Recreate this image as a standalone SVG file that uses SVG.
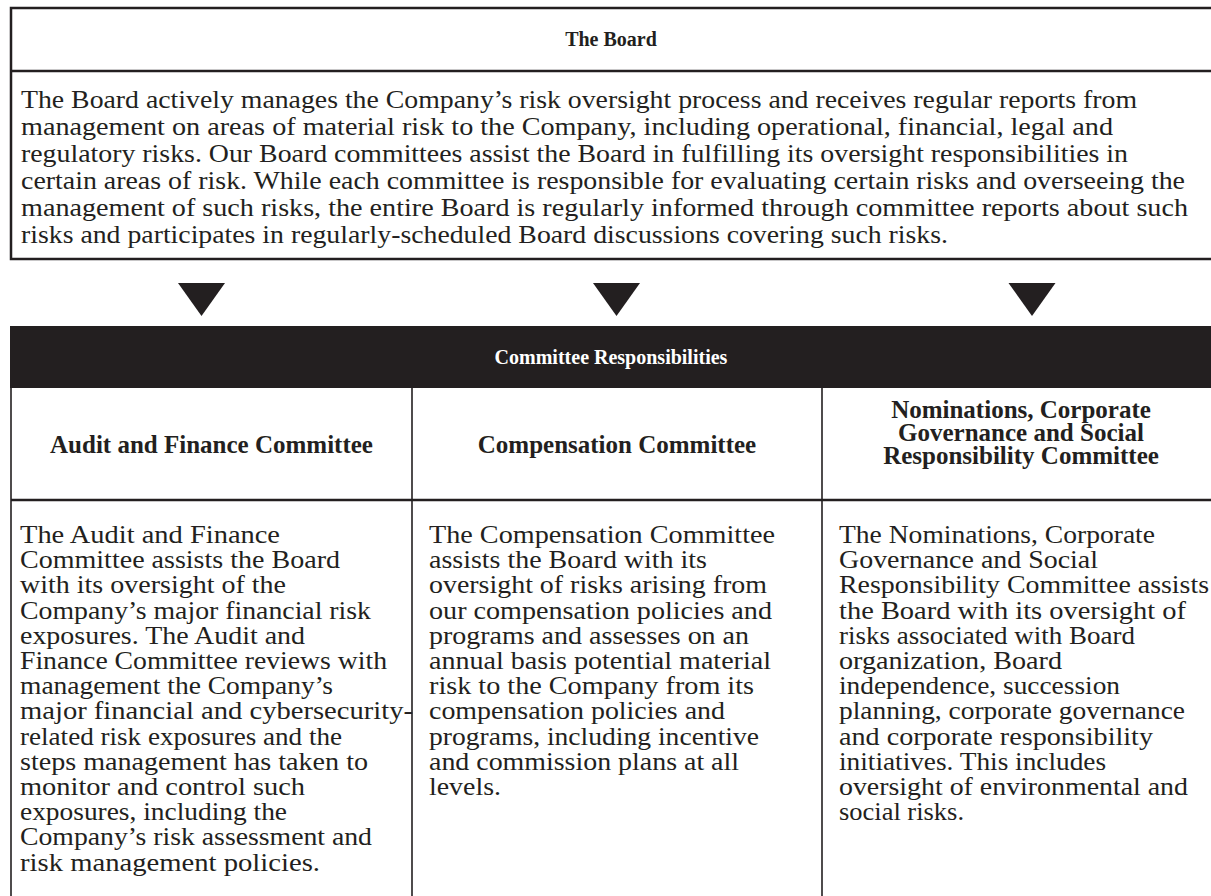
<svg xmlns="http://www.w3.org/2000/svg" xmlns:xlink="http://www.w3.org/1999/xlink" width="1211" height="896" viewBox="0 0 1211 896">
  <style>
    .frame { fill: none; stroke: #231f20; stroke-width: 2.5; }
    .rule { stroke: #231f20; stroke-width: 2.5; }
    .vrule { stroke: #231f20; stroke-width: 1.6; }
    .body { font-family: "Liberation Serif", "Times New Roman", serif; font-size: 25px; fill: #231f20; }
    .title { font-family: "Liberation Serif", "Times New Roman", serif; font-size: 20px; font-weight: bold; fill: #231f20; text-anchor: middle; }
    .title.inverse { fill: #ffffff; }
    .head { font-family: "Liberation Serif", "Times New Roman", serif; font-size: 25px; font-weight: bold; fill: #231f20; text-anchor: middle; }
    .bar { fill: #231f20; }
    .arrow { fill: #231f20; }
  </style>
  <defs>
    <path id="down-arrow" d="M -23.5 283 L 23.5 283 L 0 316 Z"/>
  </defs>
  <rect width="1211" height="896" fill="#ffffff"/>

  <!-- Board box -->
  <g id="board">
    <rect class="frame" x="11" y="8" width="1212" height="251"/>
    <line class="rule" x1="11" y1="71" x2="1211" y2="71"/>
    <text class="title" x="611" y="46">The Board</text>
    <g class="body">
      <text x="21" y="108" textLength="1116" lengthAdjust="spacingAndGlyphs">The Board actively manages the Company’s risk oversight process and receives regular reports from</text>
      <text x="21" y="135" textLength="1092" lengthAdjust="spacingAndGlyphs">management on areas of material risk to the Company, including operational, financial, legal and</text>
      <text x="21" y="162" textLength="1107" lengthAdjust="spacingAndGlyphs">regulatory risks. Our Board committees assist the Board in fulfilling its oversight responsibilities in</text>
      <text x="21" y="189" textLength="1164" lengthAdjust="spacingAndGlyphs">certain areas of risk. While each committee is responsible for evaluating certain risks and overseeing the</text>
      <text x="21" y="216" textLength="1167" lengthAdjust="spacingAndGlyphs">management of such risks, the entire Board is regularly informed through committee reports about such</text>
      <text x="21" y="243" textLength="927" lengthAdjust="spacingAndGlyphs">risks and participates in regularly-scheduled Board discussions covering such risks.</text>
    </g>
  </g>

  <!-- Downward arrows from the Board to the committees -->
  <g id="connectors">
    <use class="arrow" xlink:href="#down-arrow" href="#down-arrow" x="201.5" y="0"/>
    <use class="arrow" xlink:href="#down-arrow" href="#down-arrow" x="616.5" y="0"/>
    <use class="arrow" xlink:href="#down-arrow" href="#down-arrow" x="1032" y="0"/>
  </g>

  <!-- Committee Responsibilities banner -->
  <g id="committee-responsibilities">
    <rect class="bar" x="10" y="326" width="1201" height="62"/>
    <text class="title inverse" x="611" y="364">Committee Responsibilities</text>
  </g>

  <!-- Table grid -->
  <g id="grid">
    <line class="vrule" x1="11" y1="388" x2="11" y2="896"/>
    <line class="vrule" x1="412" y1="388" x2="412" y2="896"/>
    <line class="vrule" x1="822" y1="388" x2="822" y2="896"/>
    <line class="rule" x1="11" y1="500" x2="1211" y2="500"/>
  </g>

  <!-- Audit and Finance Committee -->
  <g id="audit-finance">
    <text class="head" x="211.5" y="453">Audit and Finance Committee</text>
    <g class="body">
      <text x="20" y="543" textLength="260" lengthAdjust="spacingAndGlyphs">The Audit and Finance</text>
      <text x="20" y="568.2" textLength="320" lengthAdjust="spacingAndGlyphs">Committee assists the Board</text>
      <text x="20" y="593.4" textLength="266" lengthAdjust="spacingAndGlyphs">with its oversight of the</text>
      <text x="20" y="618.6" textLength="351" lengthAdjust="spacingAndGlyphs">Company’s major financial risk</text>
      <text x="20" y="643.8" textLength="285" lengthAdjust="spacingAndGlyphs">exposures. The Audit and</text>
      <text x="20" y="669" textLength="367" lengthAdjust="spacingAndGlyphs">Finance Committee reviews with</text>
      <text x="20" y="694.2" textLength="313" lengthAdjust="spacingAndGlyphs">management the Company’s</text>
      <text x="20" y="719.4" textLength="393" lengthAdjust="spacingAndGlyphs">major financial and cybersecurity-</text>
      <text x="20" y="744.6" textLength="322" lengthAdjust="spacingAndGlyphs">related risk exposures and the</text>
      <text x="20" y="769.8" textLength="348" lengthAdjust="spacingAndGlyphs">steps management has taken to</text>
      <text x="20" y="795" textLength="285" lengthAdjust="spacingAndGlyphs">monitor and control such</text>
      <text x="20" y="820.2" textLength="267" lengthAdjust="spacingAndGlyphs">exposures, including the</text>
      <text x="20" y="845.4" textLength="352" lengthAdjust="spacingAndGlyphs">Company’s risk assessment and</text>
      <text x="20" y="870.6" textLength="300" lengthAdjust="spacingAndGlyphs">risk management policies.</text>
    </g>
  </g>

  <!-- Compensation Committee -->
  <g id="compensation">
    <text class="head" x="617" y="453">Compensation Committee</text>
    <g class="body">
      <text x="429" y="543" textLength="346" lengthAdjust="spacingAndGlyphs">The Compensation Committee</text>
      <text x="429" y="568.2" textLength="278" lengthAdjust="spacingAndGlyphs">assists the Board with its</text>
      <text x="429" y="593.4" textLength="338" lengthAdjust="spacingAndGlyphs">oversight of risks arising from</text>
      <text x="429" y="618.6" textLength="343" lengthAdjust="spacingAndGlyphs">our compensation policies and</text>
      <text x="429" y="643.8" textLength="320" lengthAdjust="spacingAndGlyphs">programs and assesses on an</text>
      <text x="429" y="669" textLength="342" lengthAdjust="spacingAndGlyphs">annual basis potential material</text>
      <text x="429" y="694.2" textLength="325" lengthAdjust="spacingAndGlyphs">risk to the Company from its</text>
      <text x="429" y="719.4" textLength="296" lengthAdjust="spacingAndGlyphs">compensation policies and</text>
      <text x="429" y="744.6" textLength="330" lengthAdjust="spacingAndGlyphs">programs, including incentive</text>
      <text x="429" y="769.8" textLength="310" lengthAdjust="spacingAndGlyphs">and commission plans at all</text>
      <text x="429" y="795" textLength="72" lengthAdjust="spacingAndGlyphs">levels.</text>
    </g>
  </g>

  <!-- Nominations, Corporate Governance and Social Responsibility Committee -->
  <g id="nominations">
    <text class="head" x="1021" y="418">Nominations, Corporate</text>
    <text class="head" x="1021" y="441">Governance and Social</text>
    <text class="head" x="1021" y="464">Responsibility Committee</text>
    <g class="body">
      <text x="839" y="543" textLength="316" lengthAdjust="spacingAndGlyphs">The Nominations, Corporate</text>
      <text x="839" y="568.2" textLength="259" lengthAdjust="spacingAndGlyphs">Governance and Social</text>
      <text x="839" y="593.4" textLength="370" lengthAdjust="spacingAndGlyphs">Responsibility Committee assists</text>
      <text x="839" y="618.6" textLength="347" lengthAdjust="spacingAndGlyphs">the Board with its oversight of</text>
      <text x="839" y="643.8" textLength="296" lengthAdjust="spacingAndGlyphs">risks associated with Board</text>
      <text x="839" y="669" textLength="223" lengthAdjust="spacingAndGlyphs">organization, Board</text>
      <text x="839" y="694.2" textLength="281" lengthAdjust="spacingAndGlyphs">independence, succession</text>
      <text x="839" y="719.4" textLength="346" lengthAdjust="spacingAndGlyphs">planning, corporate governance</text>
      <text x="839" y="744.6" textLength="314" lengthAdjust="spacingAndGlyphs">and corporate responsibility</text>
      <text x="839" y="769.8" textLength="267" lengthAdjust="spacingAndGlyphs">initiatives. This includes</text>
      <text x="839" y="795" textLength="349" lengthAdjust="spacingAndGlyphs">oversight of environmental and</text>
      <text x="839" y="820.2" textLength="125" lengthAdjust="spacingAndGlyphs">social risks.</text>
    </g>
  </g>
</svg>
